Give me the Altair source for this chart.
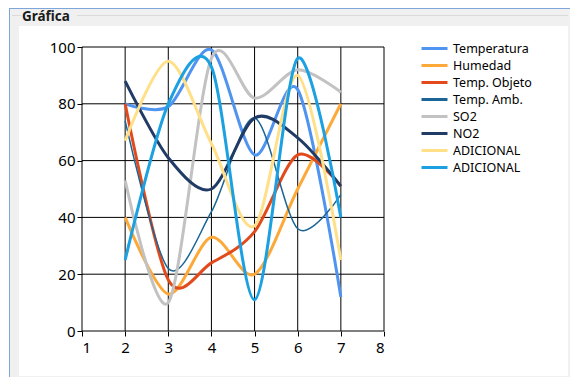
import altair as alt
import pandas as pd

# ---- data ----
x_vals = [2, 3, 4, 5, 6, 7]
series_names = ["Temperatura", "Humedad", "Temp. Objeto", "Temp. Amb.",
                "SO2", "NO2", "ADICIONAL", "ADICIONAL "]
temperatura = [80, 79, 99, 62, 85, 12]
humedad = [40, 13, 33, 20, 50, 80]
temp_objeto = [80, 18, 24, 35, 62, 51]
temp_amb = [74, 22, 42, 75, 36, 48]
so2 = [53, 10, 96, 82, 92, 84]
no2 = [88, 61, 50, 75, 68, 51]
adicional_1 = [67, 95, 66, 37, 90, 25]
adicional_2 = [25, 80, 93, 11, 96, 40]
x_ticks = [1, 2, 3, 4, 5, 6, 7, 8]
y_ticks = [0, 20, 40, 60, 80, 100]

all_series = [temperatura, humedad, temp_objeto, temp_amb, so2, no2, adicional_1, adicional_2]
colors = ["#4f94f0", "#fca93a", "#e24a1c", "#1a6496", "#c2c2c2", "#203b66", "#ffe088", "#1ba1e2"]

rows = []
for i, (name, vals) in enumerate(zip(series_names, all_series)):
    for x, v in zip(x_vals, vals):
        rows.append({"serie": name, "x": x, "v": v, "orden": i})
df = pd.DataFrame(rows)

W, H = 302, 284
FONT = "Noto Sans"

xscale = alt.Scale(domain=[1, 8], nice=False, zero=False)
yscale = alt.Scale(domain=[0, 100], nice=False)
cscale = alt.Scale(domain=series_names, range=colors)

one = pd.DataFrame({"k": [0]})

# decorative frame (window / group box)
frame_gray = alt.Chart(one).mark_rect(color="#f0f0f0").encode(
    x=alt.value(-72), x2=alt.value(488), y=alt.value(-39), y2=alt.value(330))
frame_left = alt.Chart(one).mark_rect(color="#7fa6da").encode(
    x=alt.value(-73), x2=alt.value(-72), y=alt.value(-39), y2=alt.value(330))
frame_top = alt.Chart(one).mark_rect(color="#7fa6da").encode(
    x=alt.value(-73), x2=alt.value(488), y=alt.value(-39), y2=alt.value(-38))
panel = alt.Chart(one).mark_rect(color="white").encode(
    x=alt.value(-63), x2=alt.value(486), y=alt.value(-21), y2=alt.value(329))
gb_line1 = alt.Chart(one).mark_rect(color="#dadada").encode(
    x=alt.value(-70), x2=alt.value(-61), y=alt.value(-32), y2=alt.value(-31))
gb_line2 = alt.Chart(one).mark_rect(color="#dadada").encode(
    x=alt.value(-5), x2=alt.value(486), y=alt.value(-32), y2=alt.value(-31))
title = alt.Chart(one).mark_text(
    text="Gráfica", align="left", baseline="middle", font=FONT,
    fontSize=13.5, fontWeight="bold", color="#1a1a1a").encode(
    x=alt.value(-60), y=alt.value(-30))

# grid
gx = alt.Chart(pd.DataFrame({"t": x_ticks})).mark_rule(color="black", strokeWidth=1).encode(
    x=alt.X("t:Q", scale=xscale), y=alt.value(0), y2=alt.value(H))
gy = alt.Chart(pd.DataFrame({"t": y_ticks})).mark_rule(color="black", strokeWidth=1).encode(
    y=alt.Y("t:Q", scale=yscale), x=alt.value(0), x2=alt.value(W))

xenc = alt.X("x:Q", scale=xscale, title=None,
             axis=alt.Axis(values=x_ticks, grid=False, domain=False, tickColor="black",
                           tickSize=5, labelFontSize=15, labelColor="black", labelFont=FONT,
                           labelPadding=4, format="d", zindex=2))
yenc = alt.Y("v:Q", scale=yscale, title=None,
             axis=alt.Axis(values=y_ticks, grid=False, domain=False, tickColor="black",
                           tickSize=5, labelFontSize=15, labelColor="black", labelFont=FONT,
                           labelPadding=2, format="d", zindex=2))
cenc = alt.Color("serie:N", scale=cscale,
                 legend=alt.Legend(orient="none", legendX=338, legendY=-7, title=None,
                                   symbolType="stroke", symbolSize=676,
                                   symbolStrokeWidth=3, labelFontSize=12.5,
                                   labelFont=FONT, labelColor="black",
                                   rowPadding=0, clipHeight=17, padding=0,
                                   labelOffset=4, zindex=2))

base = alt.Chart(df).encode(x=xenc, y=yenc, color=cenc, order=alt.Order("x:Q"))

lines_a = base.transform_filter("datum.orden < 3").mark_line(
    interpolate="cardinal", tension=0.1, strokeWidth=3)
lines_b = base.transform_filter("datum.orden == 3").mark_line(
    interpolate="cardinal", tension=0.1, strokeWidth=1.5)
lines_c = base.transform_filter("datum.orden > 3").mark_line(
    interpolate="cardinal", tension=0.1, strokeWidth=3)

chart = alt.layer(
    frame_gray, frame_left, frame_top, panel, gb_line1, gb_line2, title, gx, gy,
    lines_a, lines_b, lines_c
).properties(
    width=W, height=H,
    autosize=alt.AutoSizeParams(type="none"),
    padding={"left": 74, "top": 39, "right": 186, "bottom": 46},
    background="white",
).configure_view(stroke=None)

chart.save("out.html", embed_options={"renderer": "svg", "actions": False})
